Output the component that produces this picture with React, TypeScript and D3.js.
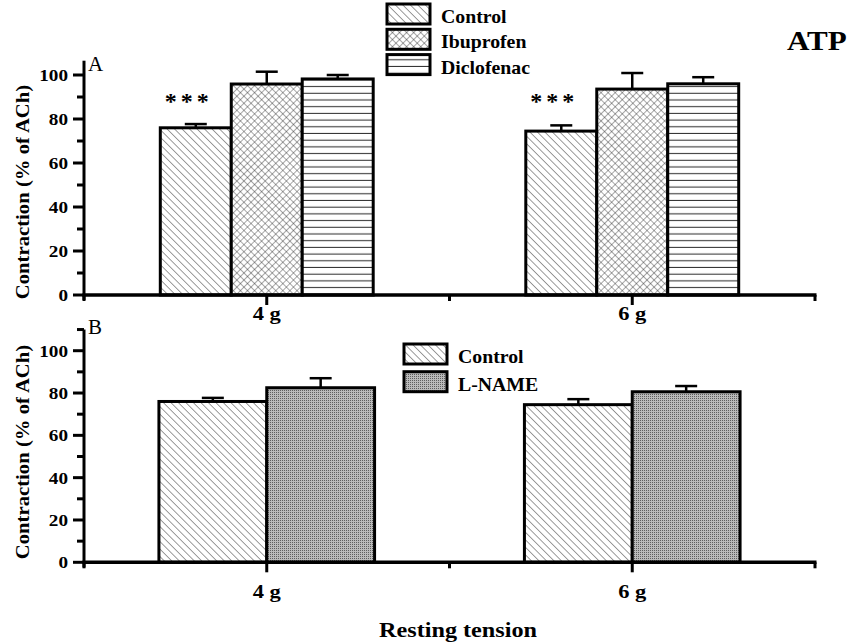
import React, { useEffect, useRef } from 'react';
import * as d3 from 'd3';

// categories along the x axis (positions on a 0..4 linear axis)
const groups = ['4 g', '6 g'];
const groupPos = [1, 3];
const xTickPos = [0, 1, 2, 3, 4];

// panel A: control vs COX inhibitors
const seriesA = ['Control', 'Ibuprofen', 'Diclofenac'];
const controlMean = [76.0, 74.5];
const controlErr = [1.7, 2.6];
const ibuprofenMean = [95.9, 93.6];
const ibuprofenErr = [5.6, 7.3];
const diclofenacMean = [98.2, 96.0];
const diclofenacErr = [1.8, 3.0];
const sigLabels = ['***', '***'];
const sigValue = 84.5;

// panel B: control vs L-NAME
const seriesB = ['Control', 'L-NAME'];
const lnameMean = [82.5, 80.6];
const lnameErr = [4.5, 2.7];

const yMajor = [0, 20, 40, 60, 80, 100];
const yMinorA = [10, 30, 50, 70, 90];
const yMinorB = [10, 30, 50, 70, 90, 110];

const FONT = "'Liberation Serif', 'Times New Roman', serif";

const fills: Record<string, string> = {
    'Control': 'url(#pat-control)',
    'Ibuprofen': 'url(#pat-ibu)',
    'Diclofenac': 'url(#pat-diclo)',
    'L-NAME': 'url(#pat-lname)',
};

const App: React.FC = () => {
    const ref = useRef<SVGSVGElement | null>(null);

    useEffect(() => {
        if (!ref.current) return;
        const svg = d3.select(ref.current);
        svg.selectAll('*').remove();

        const width = 850;
        const height = 644;
        const left = 84;
        const right = 815;
        svg.attr('width', width).attr('height', height);

        // hatch patterns
        const defs = svg.append('defs');
        const diag = defs.append('pattern').attr('id', 'pat-control')
            .attr('patternUnits', 'userSpaceOnUse').attr('width', 5.3).attr('height', 5.3)
            .attr('patternTransform', 'rotate(-45)');
        diag.append('rect').attr('width', 5.3).attr('height', 5.3).attr('fill', '#fff');
        diag.append('line').attr('x1', 0).attr('y1', 0).attr('x2', 0).attr('y2', 5.3)
            .attr('stroke', '#222').attr('stroke-width', 0.9);

        const cross = defs.append('pattern').attr('id', 'pat-ibu')
            .attr('patternUnits', 'userSpaceOnUse').attr('width', 5).attr('height', 5)
            .attr('patternTransform', 'rotate(45)');
        cross.append('rect').attr('width', 5).attr('height', 5).attr('fill', '#fff');
        cross.append('line').attr('x1', 0).attr('y1', 0).attr('x2', 0).attr('y2', 5)
            .attr('stroke', '#222').attr('stroke-width', 0.8);
        cross.append('line').attr('x1', 0).attr('y1', 0).attr('x2', 5).attr('y2', 0)
            .attr('stroke', '#222').attr('stroke-width', 0.8);

        const horiz = defs.append('pattern').attr('id', 'pat-diclo')
            .attr('patternUnits', 'userSpaceOnUse').attr('width', 10).attr('height', 6.7);
        horiz.append('rect').attr('width', 10).attr('height', 6.7).attr('fill', '#fff');
        horiz.append('line').attr('x1', 0).attr('y1', 6.2).attr('x2', 10).attr('y2', 6.2)
            .attr('stroke', '#333').attr('stroke-width', 1.1);

        const dots = defs.append('pattern').attr('id', 'pat-lname')
            .attr('patternUnits', 'userSpaceOnUse').attr('width', 2).attr('height', 2);
        dots.append('rect').attr('width', 2).attr('height', 2).attr('fill', '#bababa');
        dots.append('rect').attr('width', 1).attr('height', 1).attr('fill', '#5e5e5e');

        const x = d3.scaleLinear().domain([0, 4]).range([left, right]);

        const text = (
            g: d3.Selection<any, unknown, null, undefined>,
            tx: number, ty: number, str: string, size: number,
            anchor = 'middle', weight = 'bold', sx = 1.12, rotate = false,
        ) => g.append('text')
            .attr('transform', `translate(${tx},${ty})${rotate ? ' rotate(-90)' : ''} scale(${sx},1)`)
            .attr('text-anchor', anchor)
            .attr('font-family', FONT)
            .attr('font-weight', weight)
            .attr('font-size', size)
            .attr('fill', '#000')
            .text(str);

        type Series = { name: string; mean: number[]; err: number[] };

        const drawPanel = (opts: {
            y0: number; yMax: number; pxPerUnit: number; minor: number[];
            series: Series[]; span: number; letter: string; letterY: number;
            tickLabelY: number; labelCenter: number;
            legendX: number; legendY: number; legendStep: number;
            sig?: string[];
        }) => {
            const g = svg.append('g');
            const y = d3.scaleLinear()
                .domain([0, opts.yMax])
                .range([opts.y0, opts.y0 - opts.yMax * opts.pxPerUnit]);

            // bars
            opts.series.forEach((s, si) => {
                groups.forEach((grp, gi) => {
                    const inner = d3.scaleBand<string>()
                        .domain(opts.series.map(d => d.name))
                        .range([x(groupPos[gi] - opts.span / 2), x(groupPos[gi] + opts.span / 2)]);
                    const bx = inner(s.name) as number;
                    const bw = inner.bandwidth();
                    const cx = bx + bw / 2;
                    // error bar (upper only)
                    g.append('line')
                        .attr('x1', cx).attr('x2', cx)
                        .attr('y1', y(s.mean[gi])).attr('y2', y(s.mean[gi] + s.err[gi]))
                        .attr('stroke', '#000').attr('stroke-width', 2.5);
                    g.append('line')
                        .attr('x1', cx - 11).attr('x2', cx + 11)
                        .attr('y1', y(s.mean[gi] + s.err[gi])).attr('y2', y(s.mean[gi] + s.err[gi]))
                        .attr('stroke', '#000').attr('stroke-width', 2.5);
                    g.append('rect')
                        .attr('x', bx).attr('y', y(s.mean[gi]))
                        .attr('width', bw).attr('height', y(0) - y(s.mean[gi]))
                        .attr('fill', fills[s.name])
                        .attr('stroke', '#000').attr('stroke-width', 3);
                    if (si === 0 && opts.sig) {
                        text(g, cx - 7, y(sigValue), opts.sig[gi], 24, 'middle', 'bold', 1)
                            .attr('letter-spacing', 4);
                    }
                });
            });

            // y axis
            g.append('line')
                .attr('x1', left).attr('x2', left)
                .attr('y1', y(0) + 5).attr('y2', y(opts.yMax))
                .attr('stroke', '#000').attr('stroke-width', 3);
            yMajor.forEach(v => {
                g.append('line').attr('x1', left - 11).attr('x2', left)
                    .attr('y1', y(v)).attr('y2', y(v))
                    .attr('stroke', '#000').attr('stroke-width', 3);
                text(g, left - 16, y(v) + 6, String(v), 17, 'end', 'bold', 1.13);
            });
            opts.minor.forEach(v => {
                g.append('line').attr('x1', left - 7).attr('x2', left)
                    .attr('y1', y(v)).attr('y2', y(v))
                    .attr('stroke', '#000').attr('stroke-width', 3);
            });

            // x axis
            g.append('line')
                .attr('x1', left - 1.5).attr('x2', right + 1.5)
                .attr('y1', y(0)).attr('y2', y(0))
                .attr('stroke', '#000').attr('stroke-width', 3.5);
            xTickPos.forEach(p => {
                const major = groupPos.includes(p);
                g.append('line')
                    .attr('x1', x(p)).attr('x2', x(p))
                    .attr('y1', y(0)).attr('y2', y(0) + (major ? 10 : 6))
                    .attr('stroke', '#000').attr('stroke-width', 3);
            });
            groups.forEach((grp, gi) => {
                text(g, x(groupPos[gi]), opts.tickLabelY, grp, 18, 'middle', 'bold', 1.25);
            });

            // y title
            text(g, 29, opts.labelCenter, 'Contraction (% of ACh)', 19, 'middle', 'bold', 1.09, true);

            // panel letter
            text(g, left + 4, opts.letterY, opts.letter, 20, 'start', 'normal', 1.05);

            // legend
            opts.series.forEach((s, i) => {
                const ly = opts.legendY + i * opts.legendStep;
                g.append('rect')
                    .attr('x', opts.legendX).attr('y', ly)
                    .attr('width', 43).attr('height', 20)
                    .attr('fill', fills[s.name])
                    .attr('stroke', '#000').attr('stroke-width', 3);
                text(g, opts.legendX + 54, ly + 19, s.name, 18, 'start', 'bold', 1.1);
            });
        };

        drawPanel({
            y0: 295, yMax: 106.5, pxPerUnit: 2.2, minor: yMinorA,
            series: [
                { name: seriesA[0], mean: controlMean, err: controlErr },
                { name: seriesA[1], mean: ibuprofenMean, err: ibuprofenErr },
                { name: seriesA[2], mean: diclofenacMean, err: diclofenacErr },
            ],
            span: 1.165, letter: 'A', letterY: 71, tickLabelY: 320, labelCenter: 192,
            legendX: 387, legendY: 4, legendStep: 25.3, sig: sigLabels,
        });

        drawPanel({
            y0: 562.3, yMax: 110, pxPerUnit: 2.116, minor: yMinorB,
            series: [
                { name: seriesB[0], mean: controlMean, err: controlErr },
                { name: seriesB[1], mean: lnameMean, err: lnameErr },
            ],
            span: 1.18, letter: 'B', letterY: 334, tickLabelY: 598, labelCenter: 452,
            legendX: 404, legendY: 344, legendStep: 27.7,
        });

        text(svg as any, 787, 50, 'ATP', 27, 'start', 'bold', 1.15);
        text(svg as any, 458, 637, 'Resting tension', 22, 'middle', 'bold', 1.1);
    }, []);

    return (
        <div style={{ position: 'absolute', left: 0, top: 0, width: 850, height: 644, background: '#fff' }}>
            <svg ref={ref} />
        </div>
    );
};

export default App;
